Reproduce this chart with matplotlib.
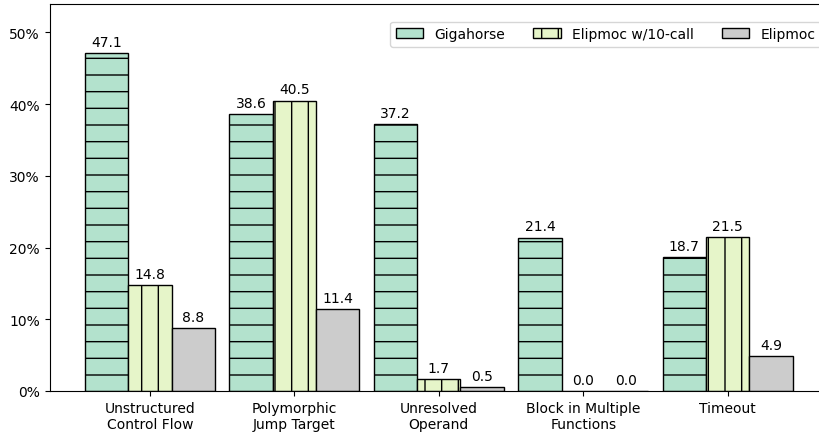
import matplotlib
matplotlib.use("Agg")
import matplotlib.pyplot as plt
import numpy as np
from matplotlib.ticker import PercentFormatter

# data
categories = ["Unstructured\nControl Flow", "Polymorphic\nJump Target", "Unresolved\nOperand",
              "Block in Multiple\nFunctions", "Timeout"]
gigahorse = [47.1, 38.6, 37.2, 21.4, 18.7]
elipmoc_10call = [14.8, 40.5, 1.7, 0.0, 21.5]
elipmoc = [8.8, 11.4, 0.5, 0.0, 4.9]

series_names = ["Gigahorse", "Elipmoc w/10-call", "Elipmoc"]
colors = ["#b3e2cd", "#e6f5c9", "#cccccc"]
hatches = ["-", "|", ""]

fig = plt.figure(figsize=(8.2, 4.35), dpi=100)
# axes runs a bit past the right edge, like the cropped original
ax = fig.add_axes([0.0604, 0.0989, 0.9494, 0.8901])

x = np.arange(len(categories))
w = 0.3
for i, (vals, name) in enumerate(zip([gigahorse, elipmoc_10call, elipmoc], series_names)):
    bars = ax.bar(x + (i - 1) * w, vals, w, label=name, color=colors[i],
                  hatch=hatches[i], edgecolor="black", linewidth=1)
    ax.bar_label(bars, fmt="%.1f", padding=3, fontsize=10)

ax.set_xticks(x)
ax.set_xticklabels(categories, fontsize=10)
ax.set_ylim(0, 54)
ax.set_yticks([0, 10, 20, 30, 40, 50])
ax.yaxis.set_major_formatter(PercentFormatter(decimals=0))
ax.tick_params(axis="y", labelsize=10)
ax.spines["right"].set_visible(False)

ax.legend(loc="upper right", ncol=3, fontsize=10, bbox_to_anchor=(1, 0.972))

fig.savefig("out.png", dpi=100)
